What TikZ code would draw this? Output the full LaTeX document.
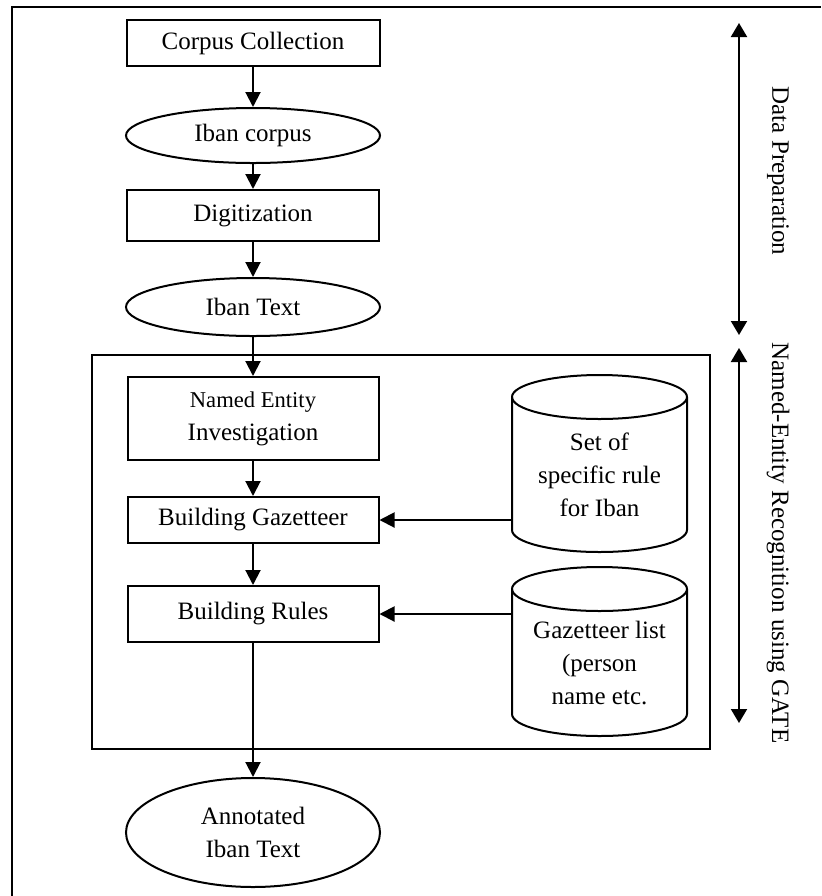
\documentclass[tikz,border=0pt]{standalone}
\usepackage{fontspec}
\setmainfont{Liberation Serif}
\usetikzlibrary{arrows.meta,shapes.geometric}
\begin{document}
\begin{tikzpicture}[x=0.5pt,y=-0.5pt,
  every node/.style={font=\fontsize{12.5}{16.5}\selectfont, inner sep=0pt, align=center},
  procbox/.style={draw, line width=1pt, rectangle},
  databox/.style={draw, line width=1pt, ellipse},
  ghost/.style={rectangle, inner sep=0pt},
  cyl/.style={line width=1pt},
  arr/.style={line width=1pt, -{Triangle[length=7.5pt,width=7.5pt]}},
  darr/.style={line width=1pt, {Triangle[length=7pt,width=8pt]}-{Triangle[length=7pt,width=8pt]}},
]
\useasboundingbox (0,0) rectangle (821,896);
% outer frame
\draw[line width=1.2pt] (12,896) -- (12,7) -- (821,7);
% inner frame
\node[draw, line width=1pt, minimum width=309pt, minimum height=197pt] (ner) at (401,552) {};

% main column
\node[procbox, minimum width=126.5pt, minimum height=23pt] (cc) at (253,43) {Corpus Collection};
\node[databox, minimum width=127pt, minimum height=27.5pt] (ic) at (253,135.5) {Iban corpus};
\node[procbox, minimum width=126pt, minimum height=25.5pt] (dg) at (253,215.5) {Digitization};
\node[databox, minimum width=127pt, minimum height=29pt] (it) at (253,307) {Iban Text};
\node[procbox, minimum width=125.5pt, minimum height=41.5pt] (ne) at (253,418.5) {{\fontsize{11.3}{16}\selectfont Named Entity}\\Investigation};
\node[procbox, minimum width=125.5pt, minimum height=23pt] (bg) at (253,520) {Building Gazetteer};
\node[procbox, minimum width=125.5pt, minimum height=28pt] (br) at (253,614) {Building Rules};
\node[databox, minimum width=127pt, minimum height=54.5pt] (an) at (253,832.5) {Annotated\\Iban Text};

% cylinders
\node[ghost, minimum width=87.5pt, minimum height=88.5pt] (c1box) at (599.5,463.5) {};
\draw[cyl] (512,397) -- (512,530) arc (180:360:43.75pt and 11pt) -- (687,397) arc (0:180:43.75pt and 11pt) -- cycle;
\draw[cyl] (512,397) arc (180:360:43.75pt and 11pt);
\node (c1) at (599.5,475) {Set of\\specific rule\\for Iban};

\node[ghost, minimum width=87.5pt, minimum height=84.5pt] (c2box) at (599.5,651.5) {};
\draw[cyl] (512,589) -- (512,714) arc (180:360:43.75pt and 11pt) -- (687,589) arc (0:180:43.75pt and 11pt) -- cycle;
\draw[cyl] (512,589) arc (180:360:43.75pt and 11pt);
\node (c2) at (599.5,663) {Gazetteer list\\(person\\name etc.};

% connectors
\draw[arr] (cc.south) -- (ic.north);
\draw[arr] (ic.south) -- (dg.north);
\draw[arr] (dg.south) -- (it.north);
\draw[arr] (it.south) -- (ne.north);
\draw[arr] (ne.south) -- (bg.north);
\draw[arr] (bg.south) -- (br.north);
\draw[arr] (br.south) -- (an.north);
\draw[arr] (c1box.west |- bg.east) -- (bg.east);
\draw[arr] (c2box.west |- br.east) -- (br.east);

% phase arrows
\coordinate (dpT) at (739,23);
\coordinate (dpB) at (739,335);
\coordinate (neT) at (739,348);
\coordinate (neB) at (739,723);
\draw[darr] (dpT) -- (dpB);
\draw[darr] (neT) -- (neB);
\node[rotate=-90] (dpl) at (778,171) {Data Preparation};
\node[rotate=-90] (nel) at (778,543) {Named-Entity Recognition using GATE};
\end{tikzpicture}
\end{document}
